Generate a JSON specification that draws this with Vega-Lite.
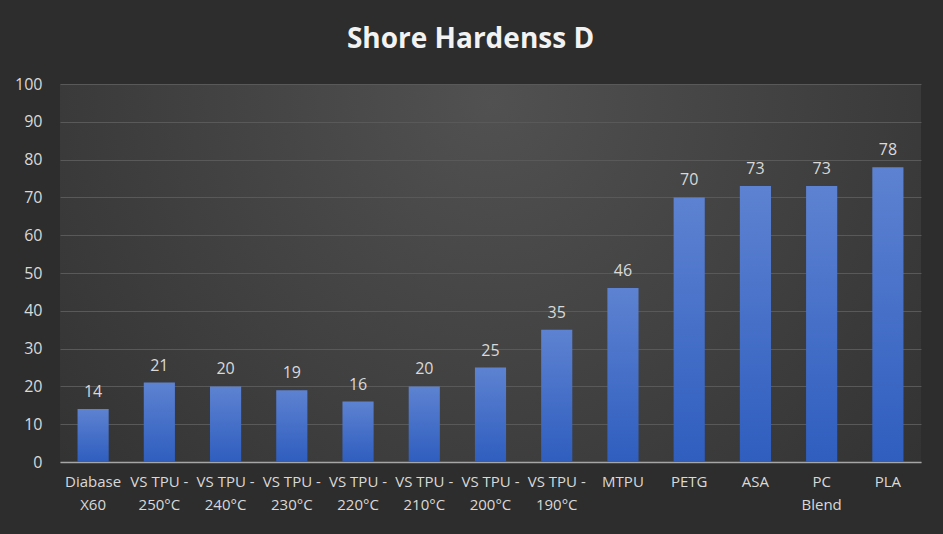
{
  "$schema": "https://vega.github.io/schema/vega-lite/v6.json",
  "autosize": "none",
  "width": 861,
  "height": 378,
  "padding": {"left": 60, "top": 84, "right": 22, "bottom": 72},
  "background": "#2d2d2d",
  "title": {
    "text": "Shore Hardenss D",
    "font": "Open Sans",
    "fontSize": 28,
    "fontWeight": "bold",
    "color": "#f2f2f2",
    "anchor": "middle",
    "frame": "group",
    "dx": -20,
    "offset": 22,
    "limit": 0
  },
  "config": {
    "view": {
      "stroke": null,
      "fill": {
        "gradient": "radial",
        "x1": 0.5, "y1": 0.3, "r1": 0,
        "x2": 0.5, "y2": 0.3, "r2": 0.78,
        "stops": [
          {"offset": 0, "color": "#515151"},
          {"offset": 1, "color": "#2d2d2d"}
        ]
      }
    },
    "axis": {
      "labelFont": "Open Sans",
      "labelFontSize": 15,
      "labelColor": "#d9d9d9",
      "title": null
    }
  },
  "data": {
    "values": [
      {"material": "Diabase X60", "hardness": 14},
      {"material": "VS TPU - 250°C", "hardness": 21},
      {"material": "VS TPU - 240°C", "hardness": 20},
      {"material": "VS TPU - 230°C", "hardness": 19},
      {"material": "VS TPU - 220°C", "hardness": 16},
      {"material": "VS TPU - 210°C", "hardness": 20},
      {"material": "VS TPU - 200°C", "hardness": 25},
      {"material": "VS TPU - 190°C", "hardness": 35},
      {"material": "MTPU", "hardness": 46},
      {"material": "PETG", "hardness": 70},
      {"material": "ASA", "hardness": 73},
      {"material": "PC Blend", "hardness": 73},
      {"material": "PLA", "hardness": 78}
    ]
  },
  "encoding": {
    "x": {
      "field": "material",
      "type": "nominal",
      "sort": null,
      "scale": {"paddingInner": 0.53, "paddingOuter": 0.265},
      "axis": {
        "labelAngle": 0,
        "labelPadding": 12,
        "labelLineHeight": 23,
        "labelLimit": 0,
        "labelOverlap": false,
        "ticks": false,
        "domainColor": "#a6a6a6",
        "domainWidth": 1.5,
        "labelExpr": "indexof(datum.label, ' ') < 0 ? datum.label : [substring(datum.label, 0, lastindexof(datum.label, ' ')), substring(datum.label, lastindexof(datum.label, ' ') + 1)]"
      }
    },
    "y": {
      "field": "hardness",
      "type": "quantitative",
      "scale": {"domain": [0, 100]},
      "axis": {
        "values": [0, 10, 20, 30, 40, 50, 60, 70, 80, 90, 100],
        "ticks": false,
        "domain": false,
        "labelPadding": 18,
        "labelFontSize": 16,
        "gridColor": "#595959",
        "gridWidth": 1.2
      }
    }
  },
  "layer": [
    {
      "mark": {
        "type": "bar",
        "fill": {
          "gradient": "linear",
          "x1": 0, "y1": 0, "x2": 0, "y2": 1,
          "stops": [
            {"offset": 0, "color": "#5d82d1"},
            {"offset": 1, "color": "#2f5ebf"}
          ]
        }
      }
    },
    {
      "mark": {
        "type": "text",
        "baseline": "bottom",
        "dy": -9,
        "font": "Open Sans",
        "fontSize": 16,
        "color": "#d9d9d9"
      },
      "encoding": {"text": {"field": "hardness", "type": "quantitative"}}
    }
  ]
}
